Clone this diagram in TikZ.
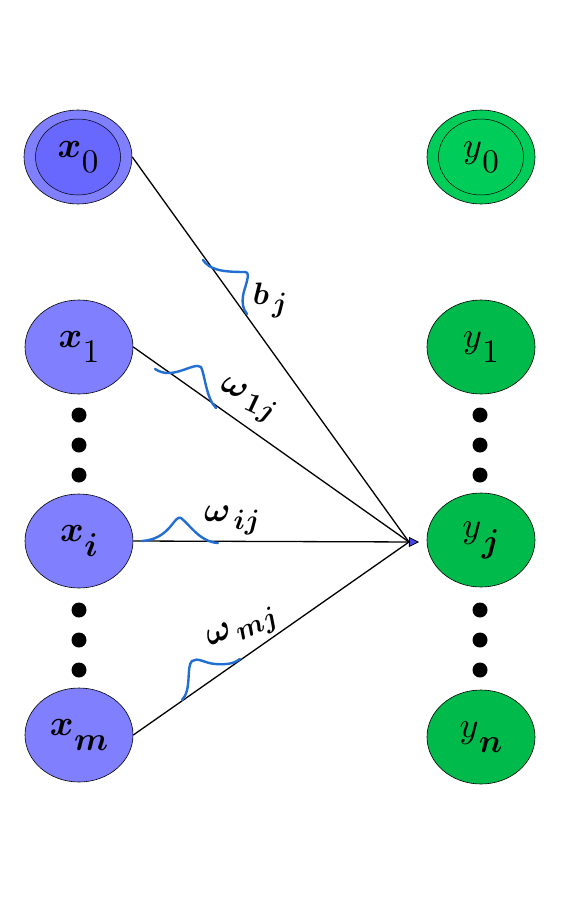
\documentclass[tikz,border=0pt]{standalone}
\usepackage{graphicx}
\usepackage{bm}
\usetikzlibrary{shapes.geometric,arrows.meta}

\definecolor{xblue}{RGB}{128,128,255}
\definecolor{xbluedark}{RGB}{104,104,255}
\definecolor{ygreen}{RGB}{0,187,75}
\definecolor{ygreenlight}{RGB}{0,204,90}
\definecolor{arcblue}{RGB}{35,110,210}
\definecolor{tipblue}{RGB}{70,70,230}

% node label: large symbol with a lowered, nearly full-size subscript
\newcommand\nodelabel[2]{\scalebox{3.6}{$#1$}\kern0.5pt\raisebox{-15pt}{\scalebox{3.3}{$#2$}}}
% weight labels
\newcommand\wlabel[3]{\scalebox{#3}{$#1$}\kern3pt\raisebox{-8pt}{\scalebox{2.8}{$#2$}}}

\tikzset{
  unit/.style={ellipse, draw=black, line width=0.6pt, minimum width=108pt,
    minimum height=94pt, inner sep=0pt},
  xunit/.style={unit, fill=xblue},
  yunit/.style={unit, fill=ygreen},
  dotmark/.style={circle, fill=black, minimum size=15pt, inner sep=0pt},
  conn/.style={draw=black, line width=1.3pt},
  weightarc/.style={draw=arcblue, line width=2.4pt, line cap=round, line join=round},
}

\begin{document}
\begin{tikzpicture}[x=1pt, y=-1pt]
\useasboundingbox[fill=white] (0,0) rectangle (567,907);

% input layer
\node[xunit] (x0) at (78,157) {};
\draw[fill=xbluedark, line width=0.5pt] (x0.center) ellipse (42.5pt and 38pt);
\node at (x0.center) {\nodelabel{\bm{x}}{0}};
\node[xunit] (x1) at (79,347) {\nodelabel{\bm{x}}{1}};
\node[xunit] (xi) at (79,541) {\nodelabel{\bm{x}}{\bm{i}}};
\node[xunit] (xm) at (79,735) {\nodelabel{\bm{x}}{\bm{m}}};

% output layer
\node[yunit, fill=ygreenlight] (y0) at (481,157) {};
\draw[fill=ygreenlight, line width=0.5pt] (y0.center) ellipse (42.5pt and 38pt);
\node at (y0.center) {\nodelabel{y}{0}};
\node[yunit] (y1) at (481,347) {\nodelabel{y}{1}};
\node[yunit] (yj) at (481,540) {\nodelabel{y}{\bm{j}}};
\node[yunit] (yn) at (481,737) {\nodelabel{y}{\bm{n}}};

% ellipsis dots
\foreach \c/\yy in {a/415,b/445,c/475,d/610,e/640,f/670}{
  \node[dotmark] (ldot\c) at (79,\yy) {};
  \node[dotmark] (rdot\c) at (480,\yy) {};
}

% connections into y_j
\coordinate (hub) at (409,542);
\coordinate (hubtip) at (419,542);
\draw[conn] (x0.east) -- (hub);
\draw[conn] (x1.east) -- (hub);
\draw[conn] (xm.east) -- (hub);
\draw[conn, -{Triangle[length=10pt, width=10pt, fill=tipblue, line width=0.8pt]}] (xi.east) -- (hubtip);

% weight arcs
\draw[weightarc] (203,260) .. controls (210,270) and (222,272) .. (245,272)
  .. controls (252,272) and (244,288) .. (243,296)
  .. controls (242,304) and (243,309) .. (247,314);
\draw[weightarc] (155,369) .. controls (163,374) and (170,374) .. (180,371)
  .. controls (190,368) and (197,364) .. (201,367)
  .. controls (205,375) and (206,398) .. (216,408);
\draw[weightarc] (142,541) .. controls (155,540) and (163,535) .. (170,527)
  .. controls (175,521) and (178,516) .. (181,518)
  .. controls (190,525) and (200,542) .. (218,543);
\draw[weightarc] (182,700) .. controls (192,690) and (186,666) .. (192,661)
  .. controls (198,657) and (204,663) .. (215,664)
  .. controls (228,665) and (235,663) .. (240,659);

% weight labels
\node (lbj) at (270,300) {\wlabel{\bm{b}}{\bm{j}}{3.1}};
\node[rotate=-25] (lw1) at (247,401) {\wlabel{\bm{\omega}}{\bm{1j}}{3.5}};
\node (lwi) at (232,520) {\wlabel{\bm{\omega}}{\bm{ij}}{3.5}};
\node[rotate=25] (lwm) at (243,630) {\wlabel{\bm{\omega}}{\bm{mj}}{3.5}};
\end{tikzpicture}
\end{document}
